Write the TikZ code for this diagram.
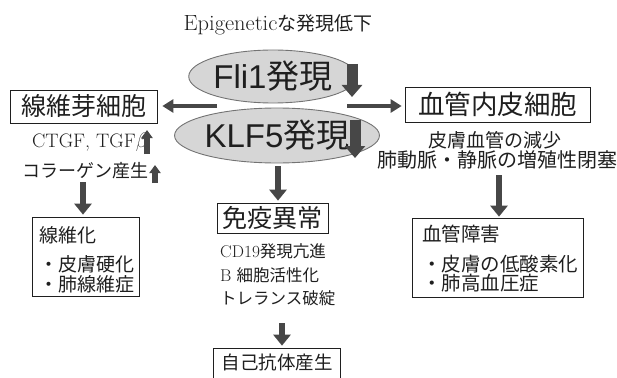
\documentclass[tikz,border=0pt]{standalone}
\usepackage{fontspec}
\usetikzlibrary{shapes.geometric,arrows.meta}
\newfontfamily\jp{Noto Sans CJK JP}
\newfontfamily\asans{Liberation Sans}
\newfontfamily\lmw[FakeStretch=1.02]{Latin Modern Roman}
\definecolor{arrc}{gray}{0.28}
\definecolor{ellf}{gray}{0.84}
\definecolor{elld}{gray}{0.45}
\definecolor{ink}{gray}{0.12}
\newcommand\fs[1]{\fontsize{#1}{#1}\selectfont}
\tikzset{
  titlebox/.style={draw=ink, line width=0.7pt, inner sep=0pt, text=ink, font=\jp\fs{25}},
  framebox/.style={draw=ink, line width=0.7pt, inner sep=0pt},
  plain/.style={inner sep=0pt, text=ink},
  bigell/.style={ellipse, fill=ellf, draw=elld, line width=0.9pt, inner sep=0pt, text=ink, font=\fs{33}},
  hfat/.style={draw=arrc, line width=4.5pt, -{Triangle[width=13pt,length=11pt]}},
  vfat/.style={draw=arrc, line width=6.5pt, -{Triangle[width=17pt,length=11pt]}},
  blk/.style={draw=arrc, line width=11pt, -{Triangle[width=20pt,length=12pt]}},
  upsmall/.style={draw=arrc, line width=6pt, -{Triangle[width=11pt,length=8pt]}},
}
\begin{document}
\begin{tikzpicture}[x=1pt,y=-1pt]
\useasboundingbox (0,0) rectangle (617,377);
\clip (0,0) rectangle (617,377);

% title
\node[plain] (epi) at (278,25) {{\lmw\fs{22}Epigenetic}{\jp\fs{19}な発現低下}};

% ellipses
\node[bigell, minimum width=166pt, minimum height=53pt] (fli) at (273,76.5) {{\asans Fli1}{\jp 発現}};
\node[bigell, minimum width=164pt, minimum height=55pt] (klf) at (277,135.5) {{\asans KLF5}{\jp 発現}};
\coordinate (fa1) at (352,64);
\coordinate (fa2) at (352,97);
\draw[blk] (fa1) -- (fa2);
\coordinate (ka1) at (355,120);
\coordinate (ka2) at (355,158);
\draw[blk] (ka1) -- (ka2);

% top boxes
\node[titlebox, minimum width=147pt, minimum height=33pt] (fib) at (83.5,106.5) {線維芽細胞};
\node[titlebox, minimum width=185pt, minimum height=35pt, font=\jp\fs{26.5}] (endo) at (497.5,104.5) {血管内皮細胞};
\node[titlebox, minimum width=111pt, minimum height=30pt] (imm) at (272.5,218) {免疫異常};

% lower boxes
\node[framebox, minimum width=107pt, minimum height=79pt] (fibro) at (85.5,256.5) {};
\node[framebox, minimum width=171pt, minimum height=79pt] (vasc) at (497.5,257.5) {};
\node[framebox, minimum width=127pt, minimum height=50pt] (auto) at (276.5,373) {};

% left texts
\node[plain, anchor=west] (ctgf) at (32,142) {{\lmw\fs{19.5}CTGF, TGF}{\fs{19.5}$\beta$}};
\node[plain, anchor=west, font=\jp\fs{18}] (koll) at (22,171) {コラーゲン産生};
\coordinate (u1a) at (147,154);
\coordinate (u1b) at (147,130);
\draw[upsmall] (u1a) -- (u1b);
\coordinate (u2a) at (155,183);
\coordinate (u2b) at (155,165);
\draw[upsmall] (u2a) -- (u2b);

% right texts
\node[plain, font=\jp\fs{19}] (hifu) at (495,140) {皮膚血管の減少};
\node[plain, font=\jp\fs{20}] (hai) at (497,160) {肺動脈・静脈の増殖性閉塞};

% center texts
\node[plain, anchor=west] (cd) at (220,251) {{\lmw\fs{17}CD19}{\jp\fs{16.5}発現亢進}};
\node[plain, anchor=west] (bc) at (220,275) {{\lmw\fs{17}B}\hspace{5pt}{\jp\fs{16.5}細胞活性化}};
\node[plain, anchor=west, font=\jp\fs{16.5}] (tol) at (220,298) {トレランス破綻};

% box contents
\node[plain, anchor=west, font=\jp\fs{19}] (f1) at (39,235) {線維化};
\node[plain, anchor=west, font=\jp\fs{19}] (f2) at (39,264) {・皮膚硬化};
\node[plain, anchor=west, font=\jp\fs{19}] (f3) at (39,284) {・肺線維症};
\node[plain, anchor=west, font=\jp\fs{19.5}] (v1) at (422,234) {血管障害};
\node[plain, anchor=west, font=\jp\fs{19.5}] (v2) at (422,264) {・皮膚の低酸素化};
\node[plain, anchor=west, font=\jp\fs{19.5}] (v3) at (422,283) {・肺高血圧症};
\node[plain, font=\jp\fs{18.5}] (autotxt) at (277,362) {自己抗体産生};

% connectors
\coordinate (lsrc) at (217,106);
\draw[hfat, shorten >=5pt] (lsrc) -- (fib.east |- lsrc);
\coordinate (rsrc) at (347,106);
\draw[hfat, shorten >=3pt] (rsrc) -- (endo.west |- rsrc);
\coordinate (d1) at (83,182);
\draw[vfat, shorten >=2pt] (d1) -- (d1 |- fibro.north);
\coordinate (d2) at (278,166);
\draw[vfat, shorten >=2pt] (d2) -- (d2 |- imm.north);
\coordinate (d3) at (499,175);
\draw[vfat, shorten >=1pt] (d3) -- (d3 |- vasc.north);
\coordinate (d4) at (282,323);
\draw[vfat, shorten >=2pt] (d4) -- (d4 |- auto.north);
\end{tikzpicture}
\end{document}
